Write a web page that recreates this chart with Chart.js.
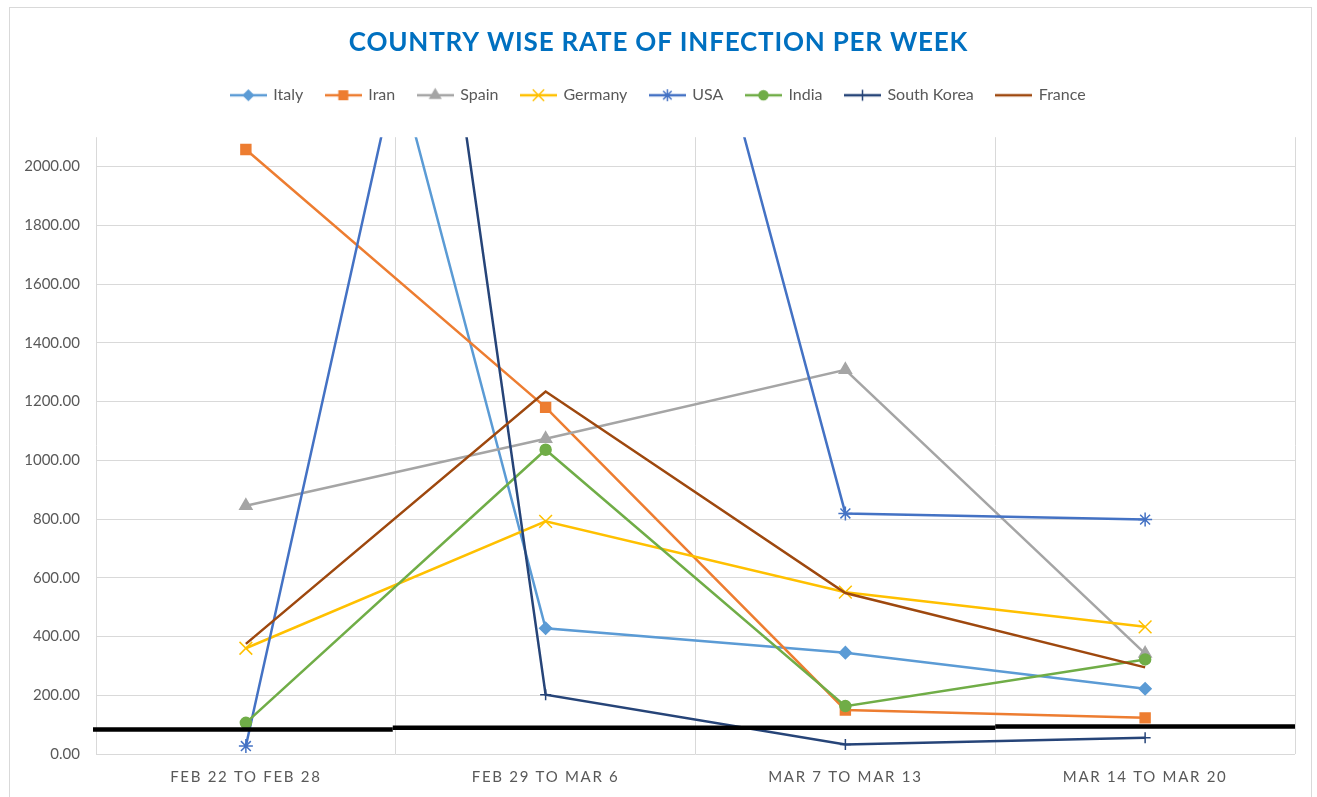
<!DOCTYPE html>
<html>
<head>
<meta charset="utf-8">
<script src="https://cdn.jsdelivr.net/npm/chart.js@4.4.1/dist/chart.umd.min.js"></script>
<style>
  html, body { margin: 0; padding: 0; background: #fff; }
  #wrap { position: relative; width: 1317px; height: 797px; overflow: hidden; }
  #frame { position: absolute; left: 9px; top: 7px; width: 1303px; height: 820px; border: 1px solid #d9d9d9; box-sizing: border-box; }
  #chart { position: absolute; left: 0; top: 0; }
</style>
</head>
<body>
<div id="wrap">
  <div id="frame"></div>
  <canvas id="chart" width="1317" height="797"></canvas>
</div>
<script>
const weeks = ['FEB 22 TO FEB 28', 'FEB 29 TO MAR 6', 'MAR 7 TO MAR 13', 'MAR 14 TO MAR 20'];
const countries = ['Italy', 'Iran', 'Spain', 'Germany', 'USA', 'India', 'South Korea', 'France'];

const italy = [4290, 428, 345, 222];
const iran = [2058, 1180, 150, 123];
const spain = [845, 1073, 1308, 342];
const germany = [360, 792, 551, 433];
const usa = [27, 4620, 819, 798];
const india = [106, 1036, 163, 322];
const southKorea = [7400, 202, 32, 55];
const france = [375, 1234, 548, 295];

const yTicks = [0, 200, 400, 600, 800, 1000, 1200, 1400, 1600, 1800, 2000];

// black marker line drawn over the chart (in category units / values)
const markFrom = [-0.51, 0.49, 2.5];
const markTo = [0.49, 2.5, 3.5];
const markValue = [83, 89, 94];

const seriesValues = [italy, iran, spain, germany, usa, india, southKorea, france];

const seriesStyles = [
    { color: '#5B9BD5', point: 'rectRot', radius: 6, legendRadius: 5 },
    { color: '#ED7D31', point: 'rect', radius: 7, legendRadius: 6 },
    { color: '#A5A5A5', point: 'triangle', radius: 7, legendRadius: 6 },
    { color: '#FFC000', point: 'crossRot', radius: 9, legendRadius: 8 },
    { color: '#4472C4', point: 'star', radius: 7, legendRadius: 6 },
    { color: '#70AD47', point: 'circle', radius: 5.5, legendRadius: 4.5 },
    { color: '#264478', point: 'cross', radius: 5.5, legendRadius: 5.5 },
    { color: '#9E480E', point: false, radius: 0, legendRadius: 0 },
];

function legendIcon(style){
    const icon = document.createElement('canvas');
    icon.width = 37;
    icon.height = 18;
    const ctx = icon.getContext('2d');
    ctx.strokeStyle = style.color;
    ctx.lineWidth = 2.5;
    ctx.beginPath();
    ctx.moveTo(0, 9);
    ctx.lineTo(37, 9);
    ctx.stroke();
    if(style.point){
        ctx.fillStyle = style.color;
        ctx.lineWidth = 1.5;
        Chart.helpers.drawPoint(ctx, {
            pointStyle: style.point,
            radius: style.legendRadius,
            borderWidth: 1.5,
            rotation: 0
        }, 18.5, 9);
    }
    return icon;
}

function spaceOut(obj, method, spacing){
    if(!obj || obj['_spaced_' + method]) return;
    const original = obj[method];
    obj[method] = function(...args){
        const ctx = this.ctx;
        ctx.save();
        ctx.letterSpacing = spacing;
        original.apply(this, args);
        ctx.restore();
    };
    obj['_spaced_' + method] = true;
}

const layoutPlugin = {
    id: 'layoutTweaks',
    beforeInit(chart){
        const legend = chart.legend;
        const fit = legend.fit;
        legend.fit = function(){
            fit.call(this);
            this.height += 24;
        };
    },
    beforeDraw(chart){
        spaceOut(chart.titleBlock, 'draw', '0.8px');
        spaceOut(chart.scales.x, 'drawLabels', '1.7px');
    }
};

const markLinePlugin = {
    id: 'markLine',
    afterDatasetsDraw(chart){
        const {ctx, scales: {x, y}} = chart;
        ctx.save();
        ctx.strokeStyle = '#000000';
        ctx.lineWidth = 4.5;
        ctx.lineCap = 'butt';
        markValue.forEach((value, i) => {
            const py = y.getPixelForValue(value);
            ctx.beginPath();
            ctx.moveTo(x.getPixelForValue(markFrom[i]), py);
            ctx.lineTo(x.getPixelForValue(markTo[i]), py);
            ctx.stroke();
        });
        ctx.restore();
    }
};

const datasets = countries.map((name, i) => {
    const style = seriesStyles[i];
    return {
        label: name,
        data: seriesValues[i],
        borderColor: style.color,
        backgroundColor: style.color,
        borderWidth: 2.5,
        pointStyle: style.point,
        pointRadius: style.radius,
        pointBorderWidth: 1.5,
        pointBackgroundColor: style.color,
        pointBorderColor: style.color,
        tension: 0,
        order: countries.length - i,
    };
});

const textFont = 'Lato, "Open Sans", sans-serif';

new Chart(document.getElementById('chart'), {
    type: 'line',
    data: {
        labels: weeks,
        datasets: datasets
    },
    options: {
        responsive: false,
        animation: false,
        devicePixelRatio: 1,
        layout: {
            padding: { top: 10, left: 22, right: 22, bottom: 0 }
        },
        plugins: {
            title: {
                display: true,
                text: 'COUNTRY WISE RATE OF INFECTION PER WEEK',
                color: '#0070C0',
                font: { family: textFont, size: 26, weight: 'bold' },
                padding: { top: 17, bottom: 6 }
            },
            legend: {
                display: true,
                position: 'top',
                labels: {
                    usePointStyle: true,
                    pointStyleWidth: 34,
                    padding: 23,
                    color: '#595959',
                    font: { family: textFont, size: 16 },
                    generateLabels: function(chart){
                        return countries.map((name, i) => ({
                            text: name,
                            pointStyle: legendIcon(seriesStyles[i]),
                            fillStyle: seriesStyles[i].color,
                            strokeStyle: seriesStyles[i].color,
                            fontColor: '#595959',
                            lineWidth: 0,
                            hidden: false,
                            datasetIndex: i
                        }));
                    }
                }
            },
            tooltip: { enabled: false }
        },
        scales: {
            x: {
                offset: true,
                grid: { color: '#D9D9D9', lineWidth: 1, drawTicks: false, offset: true },
                border: { display: false },
                ticks: {
                    color: '#595959',
                    font: { family: textFont, size: 15 },
                    padding: 14,
                    maxRotation: 0,
                    autoSkip: false
                },
                afterFit(scale){
                    scale.height = 43;
                }
            },
            y: {
                min: 0,
                max: 2100,
                grid: { color: '#D9D9D9', lineWidth: 1, drawTicks: false },
                border: { display: false },
                afterBuildTicks(scale){
                    scale.ticks = yTicks.map(v => ({ value: v }));
                },
                ticks: {
                    color: '#595959',
                    font: { family: textFont, size: 15 },
                    padding: 16,
                    callback: (value) => Number(value).toFixed(2)
                },
                afterFit(scale){
                    scale.width = 74;
                }
            }
        }
    },
    plugins: [layoutPlugin, markLinePlugin]
});
</script>
</body>
</html>
